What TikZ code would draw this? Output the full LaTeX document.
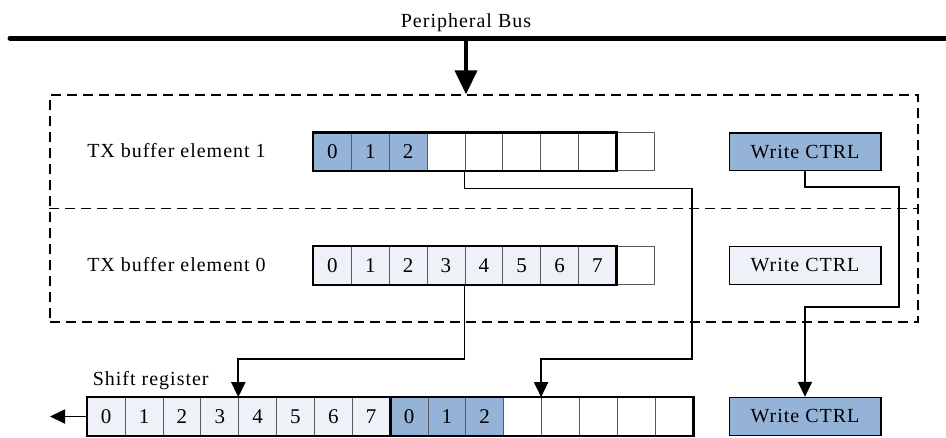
\documentclass[tikz,border=0pt]{standalone}
\usepackage{fontspec}
\setmainfont{Liberation Serif}[LetterSpace=5]
\usetikzlibrary{arrows.meta,calc}

\definecolor{fillblue}{RGB}{149,179,215}
\definecolor{filllight}{RGB}{238,242,248}

\begin{document}
\begin{tikzpicture}[x=1pt,y=-1pt,
    cell/.style={draw=black!65,line width=0.8pt,minimum width=37.85pt,minimum height=37.85pt,inner sep=0pt,font=\fontsize{21}{24}\selectfont},
    ctrl/.style={draw=black,line width=1.6pt,minimum width=151.4pt,minimum height=37.85pt,inner sep=0pt,font=\fontsize{20}{23}\selectfont},
    lbl/.style={inner sep=0pt,anchor=base,font=\fontsize{20}{23}\selectfont},
    thickrow/.style={line width=2.6pt},
    conn/.style={line width=1.8pt,-{Triangle[length=15pt,width=14pt]}},
    frame/.style={dash pattern=on 10pt off 6pt,line width=1.4pt}]
  \useasboundingbox (0,0) rectangle (946,437);
  % peripheral bus
  \coordinate (busW) at (10,38);
  \coordinate (busE) at (946,38);
  \coordinate (tap) at (466,38);
  \draw[line width=5pt,line cap=round] (busW) -- (busE);
  \node[lbl] (tBus) at (466,27.3) {Peripheral Bus};
  % TX buffer
  \node[frame,draw,minimum width=868pt,minimum height=227pt,inner sep=0pt] (buf) at (484,208.5) {};
  \draw[frame] (buf.west) -- (buf.east);
  \draw[line width=4pt,-{Triangle[length=24pt,width=22pt]}] (tap) -- (tap |- buf.north);
  % element 1
  \node[lbl] (tA) at (176.5,157.3) {TX buffer element 1};
  \foreach \i/\col/\txt in {0/fillblue/0,1/fillblue/1,2/fillblue/2,3/white/{},4/white/{},5/white/{},6/white/{},7/white/{},8/white/{}}
    \node[cell,fill=\col] (eA\i) at ({313.5+37.85*(\i+0.5)},151.7) {\txt};
  \draw[thickrow] (eA0.north west) rectangle (eA7.south east);
  \node[ctrl,fill=fillblue] (wcA) at (805,151.7) {Write CTRL};
  % element 0
  \node[lbl] (tB) at (176.5,271) {TX buffer element 0};
  \foreach \i/\col/\txt in {0/filllight/0,1/filllight/1,2/filllight/2,3/filllight/3,4/filllight/4,5/filllight/5,6/filllight/6,7/filllight/7,8/white/{}}
    \node[cell,fill=\col] (eB\i) at ({313.5+37.85*(\i+0.5)},265.5) {\txt};
  \draw[thickrow] (eB0.north west) rectangle (eB7.south east);
  \node[ctrl,fill=filllight] (wcB) at (805,265.5) {Write CTRL};
  % shift register
  \node[lbl] (tS) at (150.7,385) {Shift register};
  \foreach \i/\col/\txt in {0/filllight/0,1/filllight/1,2/filllight/2,3/filllight/3,4/filllight/4,5/filllight/5,6/filllight/6,7/filllight/7,
      8/fillblue/0,9/fillblue/1,10/fillblue/2,11/white/{},12/white/{},13/white/{},14/white/{},15/white/{}}
    \node[cell,fill=\col] (sr\i) at ({87.3+37.85*(\i+0.5)},416.5) {\txt};
  \draw[thickrow] (sr0.north west) rectangle (sr15.south east);
  \draw[thickrow] (sr7.north east) -- (sr7.south east);
  \node[ctrl,fill=fillblue] (wcS) at (805,416.5) {Write CTRL};
  % transfers
  \coordinate (kneeA) at ($(sr4.north west)+(0,-38)$);
  \coordinate (kneeB) at (692,188.5);
  \coordinate (kneeC) at ($(sr12.north west)+(0,-38)$);
  \coordinate (kneeD) at (899,186.7);
  \coordinate (kneeE) at ($(wcS.north)+(0,-90)$);
  \coordinate (out) at (50,416.5);
  \draw[conn] (eB4.south west) |- (kneeA) -- (sr4.north west);
  \draw[conn] (eA4.south west) |- (kneeB) |- (kneeC) -- (sr12.north west);
  \draw[conn] (wcA.south) |- (kneeD) |- (kneeE) -- (wcS.north);
  \draw[conn] (sr0.west) -- (out);
\end{tikzpicture}
\end{document}
